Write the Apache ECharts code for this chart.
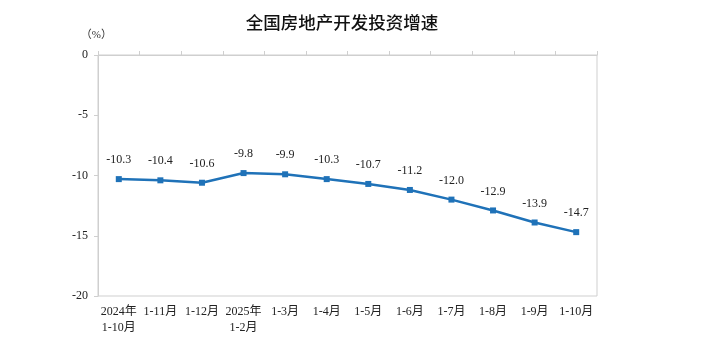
<!DOCTYPE html>
<html><head><meta charset="utf-8">
<script src="https://cdn.jsdelivr.net/npm/echarts@6/dist/echarts.min.js"></script>
<style>html,body{margin:0;padding:0;background:#fff}#c{width:716px;height:358px}</style>
</head><body><div id="c"></div>
<script>
const categories = ['2024年\n1-10月','1-11月','1-12月','2025年\n1-2月','1-3月','1-4月','1-5月','1-6月','1-7月','1-8月','1-9月','1-10月'];
const growth = [-10.3,-10.4,-10.6,-9.8,-9.9,-10.3,-10.7,-11.2,-12.0,-12.9,-13.9,-14.7];
const yTicks = [0,-5,-10,-15,-20];
const FONT = '"Liberation Serif","Noto Sans CJK SC",serif';
const chart = echarts.init(document.getElementById('c'));
chart.setOption({
  animation:false,
  title:{text:'全国房地产开发投资增速',left:337,top:9,textAlign:'center',
    textStyle:{fontFamily:'"Noto Sans CJK SC",sans-serif',fontSize:17.5,fontWeight:500,color:'#111'}},
  grid:{left:98,right:119,top:55,bottom:62,show:true,borderColor:'#cfcfcf',borderWidth:1},
  xAxis:{type:'category',data:categories,boundaryGap:true,
    axisLine:{show:true,lineStyle:{color:'#cfcfcf'}},
    axisTick:{show:true,inside:true,length:4,lineStyle:{color:'#cfcfcf'}},
    axisLabel:{color:'#222',fontFamily:FONT,fontSize:12,margin:8,lineHeight:16,interval:0}},
  yAxis:{type:'value',min:-20,max:0,interval:5,name:'（%）',nameLocation:'end',nameGap:14,
    nameTextStyle:{fontFamily:FONT,fontSize:11,color:'#333',align:'right',padding:[0,-14,0,0]},
    axisLine:{show:true,lineStyle:{color:'#cfcfcf'}},
    axisTick:{show:true,inside:false,length:4,lineStyle:{color:'#cfcfcf'}},
    splitLine:{show:false},
    axisLabel:{color:'#222',fontFamily:FONT,fontSize:12,margin:10,
      formatter:v=>yTicks.includes(v)?String(v):''}},
  series:[{type:'line',data:growth,symbol:'rect',symbolSize:6,
    lineStyle:{color:'#1f72b8',width:2.5},itemStyle:{color:'#1f72b8'},
    label:{show:true,position:'top',distance:10,color:'#222',fontFamily:FONT,fontSize:12,
      formatter:p=>p.value.toFixed(1)}}]
});
</script></body></html>
